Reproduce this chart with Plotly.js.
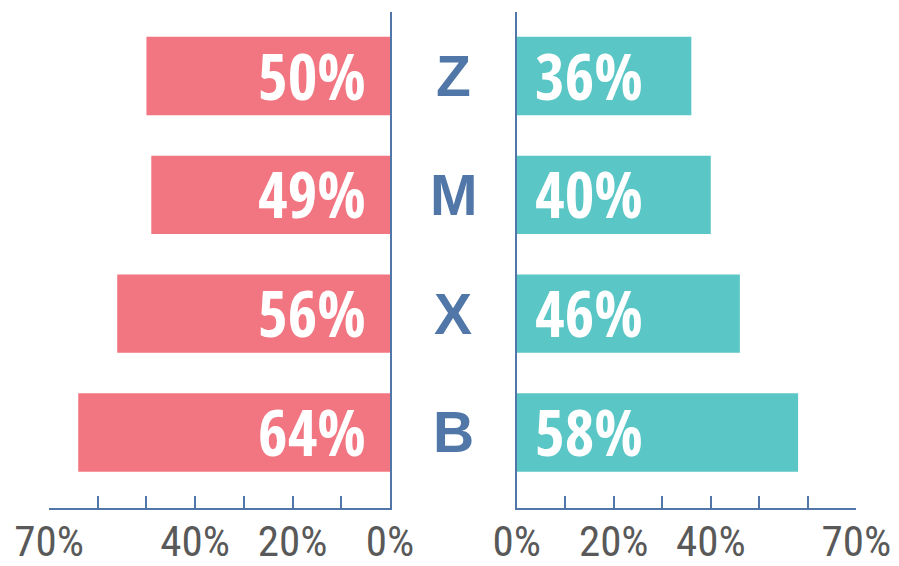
<!DOCTYPE html>
<html>
<head>
<meta charset="utf-8">
<script src="https://cdn.plot.ly/plotly-3.0.1.min.js"></script>
<style>html,body{margin:0;padding:0;background:#fff;}#chart{width:899px;height:566px;}</style>
</head>
<body>
<div id="chart"></div>
<script>
var categories = ['Z', 'M', 'X', 'B'];
var leftValues = [50, 49, 56, 64];
var rightValues = [36, 40, 46, 58];
var tickVals = [0, 10, 20, 30, 40, 50, 60, 70];
var tickText = ['0%', '', '20%', '', '40%', '', '', '70%'];

var pink = '#f27681', teal = '#5bc6c6', blue = '#5077a8';
var tickFont = {family: '"Roboto Condensed", "Liberation Sans", sans-serif', size: 43, color: '#595959'};
var valFont = {family: '"Open Sans Condensed", "Roboto Condensed", sans-serif', size: 64, color: '#ffffff', weight: 'bold'};

var traces = [
  {type: 'bar', orientation: 'h', y: categories, x: leftValues, xaxis: 'x', yaxis: 'y',
   marker: {color: pink}, hoverinfo: 'skip'},
  {type: 'bar', orientation: 'h', y: categories, x: rightValues, xaxis: 'x2', yaxis: 'y2',
   marker: {color: teal}, hoverinfo: 'skip'}
];

var annotations = [];
categories.forEach(function (c, i) {
  annotations.push({xref: 'x', yref: 'y', x: 0, y: c, text: '<b>' + leftValues[i] + '%</b>',
    showarrow: false, xanchor: 'right', xshift: -22, yanchor: 'middle', yshift: 1, font: valFont});
  annotations.push({xref: 'x2', yref: 'y2', x: 0, y: c, text: '<b>' + rightValues[i] + '%</b>',
    showarrow: false, xanchor: 'left', xshift: 16, yanchor: 'middle', yshift: 1, font: valFont});
  annotations.push({xref: 'paper', yref: 'y', x: 453 / 899, y: c, text: '<b>' + c + '</b>',
    showarrow: false, xanchor: 'center', yanchor: 'middle',
    font: {family: '"Liberation Sans", Arial, sans-serif', size: 57, color: blue}});
});

var xCommon = {
  range: [0, 70], tickvals: tickVals, ticktext: tickText, ticks: 'inside', ticklen: 12,
  tickwidth: 2, tickcolor: blue, showline: true, linecolor: blue, linewidth: 2,
  showgrid: false, zeroline: false, tickfont: tickFont, fixedrange: true,
  ticklabelstandoff: -6
};
var yRange = [3.636, -0.539];

var layout = {
  width: 899, height: 566,
  margin: {l: 0, r: 0, t: 12, b: 58},
  paper_bgcolor: '#ffffff', plot_bgcolor: '#ffffff',
  showlegend: false, bargap: 0.34,
  xaxis: Object.assign({}, xCommon, {domain: [49 / 899, 390 / 899], range: [70, 0], anchor: 'y'}),
  xaxis2: Object.assign({}, xCommon, {domain: [516.7 / 899, 856.3 / 899], range: [0, 70], anchor: 'y2'}),
  yaxis: {type: 'category', categoryorder: 'array', categoryarray: categories, range: yRange,
    side: 'right', anchor: 'x', showline: true, linecolor: blue, linewidth: 2,
    showticklabels: false, ticks: '', showgrid: false, zeroline: false},
  yaxis2: {type: 'category', categoryorder: 'array', categoryarray: categories, range: yRange,
    side: 'left', anchor: 'x2', showline: true, linecolor: blue, linewidth: 2,
    showticklabels: false, ticks: '', showgrid: false, zeroline: false},
  annotations: annotations
};

Plotly.newPlot('chart', traces, layout, {displayModeBar: false, staticPlot: true});
</script>
</body>
</html>
